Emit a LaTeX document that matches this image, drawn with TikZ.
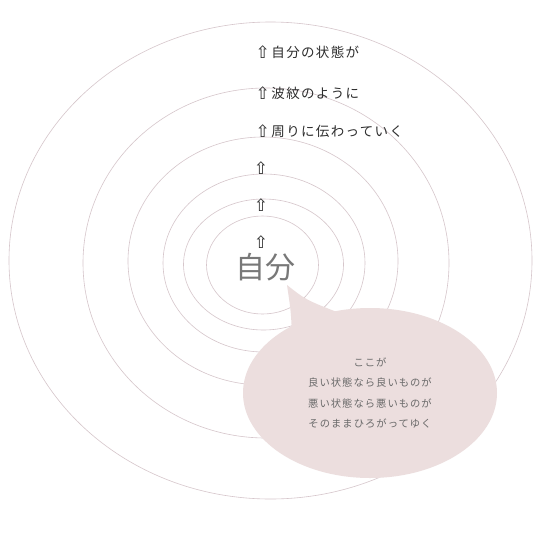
\documentclass[tikz,border=0pt]{standalone}
\usepackage{fontspec}
\usetikzlibrary{shapes.geometric}
\newfontfamily\jpfont[LetterSpace=10]{Noto Sans CJK JP}
\newfontfamily\jpsmall[LetterSpace=10]{Noto Sans CJK JP}
\newfontfamily\jpbig{Noto Sans CJK JP}
\newfontfamily\arrfont{DejaVu Sans}
\definecolor{ringcol}{RGB}{214,198,203}
\definecolor{bubblecol}{RGB}{236,222,222}
\definecolor{labelcol}{RGB}{45,45,45}
\definecolor{selfcol}{RGB}{120,120,120}
\definecolor{bubtext}{RGB}{105,105,105}
\newcommand{\uparr}{\raisebox{-1.2pt}{\arrfont\fontsize{17}{17}\selectfont ⇧}}
\tikzset{
  ring/.style={draw=ringcol, line width=0.6pt},
  label/.style={anchor=west, inner sep=0pt, text=labelcol, font=\jpfont\fontsize{13.5}{14}\selectfont},
  arrowlabel/.style={inner sep=0pt, text=labelcol, text height=10pt, text depth=0pt},
  selfnode/.style={inner sep=0pt, text=selfcol, font=\jpbig\fontsize{30}{32}\selectfont},
  bubble/.style={ellipse, fill=bubblecol, minimum width=254pt, minimum height=170pt, inner sep=0pt,
     align=center, text=bubtext, font=\jpsmall\fontsize{10.3}{20.6}\selectfont},
}
\begin{document}
\begin{tikzpicture}[x=1pt,y=-1pt]
\useasboundingbox (0,0) rectangle (554,544);
\fill[white] (0,0) rectangle (554,544);
% concentric rings
\draw[ring] (262.5,265) ellipse [x radius=56, y radius=49];
\draw[ring] (263.5,264.5) ellipse [x radius=80, y radius=65.5];
\draw[ring] (264,263) ellipse [x radius=101, y radius=89];
\draw[ring] (263,261) ellipse [x radius=135, y radius=124];
\draw[ring] (266,263) ellipse [x radius=183, y radius=175];
\draw[ring] (270.5,260.5) ellipse [x radius=261.5, y radius=238.5];
% labels
\node[label] (l1) at (255.5,52) {\uparr\hspace{1.5pt}自分の状態が};
\node[label] (l2) at (255.5,93) {\uparr\hspace{1.5pt}波紋のように};
\node[label] (l3) at (255.5,131) {\uparr\hspace{1.5pt}周りに伝わっていく};
\node[arrowlabel] (a4) at (261,168) {\uparr};
\node[arrowlabel] (a5) at (261,205) {\uparr};
\node[arrowlabel] (a6) at (261,242) {\uparr};
\node[selfnode] (self) at (265,267) {自分};
% speech bubble
\node[bubble] (bub) at (370,393) {ここが\\良い状態なら良いものが\\悪い状態なら悪いものが\\そのままひろがってゆく};
\fill[bubblecol] (292,336) .. controls (291,312) .. (287,285) .. controls (306,300) .. (342,314) -- (330,340) -- cycle;
\end{tikzpicture}
\end{document}
